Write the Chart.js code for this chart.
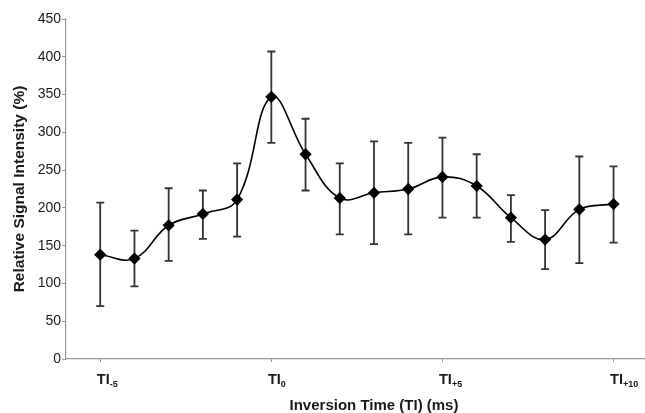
<!DOCTYPE html>
<html>
<head>
<meta charset="utf-8">
<script src="https://cdn.jsdelivr.net/npm/chart.js@4/dist/chart.umd.min.js"></script>
<style>
    html, body { margin: 0; padding: 0; background: #fff; overflow: hidden; }
    /* orijinal şekil sağdan kırpılmış: x ekseni TI+12'ye kadar uzanıyor */
    #wrap { width: 682px; height: 413px; }
</style>
</head>
<body>
<div id="wrap"><canvas id="tiChart"></canvas></div>
<script>
// Veriler
const inversionSteps = [-5, -4, -3, -2, -1, 0, 1, 2, 3, 4, 5, 6, 7, 8, 9, 10];
const signalMeans = [138, 133, 177, 192, 211, 347, 271, 213, 220, 225, 241, 229, 187, 158, 198, 205];
const errorTop    = [207, 170, 226, 223, 259, 407, 318, 259, 288, 286, 293, 271, 217, 197, 268, 255];
const errorBottom = [70, 96, 130, 159, 162, 286, 223, 165, 152, 165, 187, 187, 155, 119, 127, 154];
const tickSteps = [-5, 0, 5, 10];
const tickSubs = ['-5', '0', '+5', '+10'];
const yTicks = [0, 50, 100, 150, 200, 250, 300, 350, 400, 450];

const FONT = "'Liberation Sans', Arial, sans-serif";

// Hata çubukları
const errorBarPlugin = {
    id: 'errorBars',
    beforeDatasetsDraw(chart) {
        const { ctx, scales: { x, y } } = chart;
        ctx.save();
        ctx.strokeStyle = '#333';
        ctx.lineWidth = 1.8;
        inversionSteps.forEach((step, i) => {
            const px = x.getPixelForValue(step);
            const top = y.getPixelForValue(errorTop[i]);
            const bottom = y.getPixelForValue(errorBottom[i]);
            ctx.beginPath();
            ctx.moveTo(px, top);
            ctx.lineTo(px, bottom);
            ctx.moveTo(px - 4, top);
            ctx.lineTo(px + 4, top);
            ctx.moveTo(px - 4, bottom);
            ctx.lineTo(px + 4, bottom);
            ctx.stroke();
        });
        ctx.restore();
    }
};

// Alt simgeli x ekseni etiketleri (TI₋₅ vb.)
const subscriptTickPlugin = {
    id: 'subscriptTicks',
    afterDraw(chart) {
        const { ctx, scales: { x }, chartArea } = chart;
        ctx.save();
        ctx.fillStyle = '#1a1a1a';
        ctx.textBaseline = 'alphabetic';
        ctx.textAlign = 'left';
        const base = chartArea.bottom + 24.5;
        tickSteps.forEach((step, i) => {
            const px = x.getPixelForValue(step);
            ctx.font = 'bold 14.5px ' + FONT;
            const mainW = ctx.measureText('TI').width;
            const start = px + 3 - mainW / 2;
            ctx.fillText('TI', start, base);
            ctx.font = 'bold 9px ' + FONT;
            ctx.fillText(tickSubs[i], start + mainW, base + 3);
        });
        ctx.restore();
    }
};

function drawChart() {
    const ctx = document.getElementById('tiChart').getContext('2d');
    new Chart(ctx, {
        type: 'line',
        data: {
            datasets: [{
                data: inversionSteps.map((s, i) => ({ x: s, y: signalMeans[i] })),
                borderColor: '#000',
                borderWidth: 1.6,
                tension: 0.4,
                pointStyle: 'rectRot',
                pointRadius: 5,
                pointBackgroundColor: '#000',
                pointBorderColor: '#000',
                fill: false
            }]
        },
        options: {
            responsive: true,
            maintainAspectRatio: false,
            animation: false,
            layout: { autoPadding: false, padding: { top: 19, right: 0, bottom: 0, left: 0 } },
            plugins: {
                legend: { display: false },
                tooltip: { enabled: false }
            },
            scales: {
                x: {
                    type: 'linear',
                    min: -6,
                    max: 12,
                    afterBuildTicks: (scale) => {
                        scale.ticks = tickSteps.map(v => ({ value: v }));
                    },
                    afterFit: (scale) => { scale.height = 54; },
                    ticks: { display: false },
                    grid: { drawOnChartArea: false, tickLength: 3, color: '#999' },
                    border: { color: '#999', width: 1.2 },
                    title: {
                        display: true,
                        text: 'Inversion Time (TI) (ms)',
                        color: '#1a1a1a',
                        font: { family: FONT, size: 15, weight: 'bold', lineHeight: 0.9 },
                        padding: { top: 0, bottom: 0 }
                    }
                },
                y: {
                    min: 0,
                    max: 450,
                    afterBuildTicks: (scale) => {
                        scale.ticks = yTicks.map(v => ({ value: v }));
                    },
                    afterFit: (scale) => { scale.width = 66; },
                    ticks: {
                        color: '#1a1a1a',
                        padding: 1,
                        font: { family: FONT, size: 14 }
                    },
                    grid: { drawOnChartArea: false, tickLength: 4, color: '#999' },
                    border: { color: '#999', width: 1.2 },
                    title: {
                        display: true,
                        text: 'Relative Signal Intensity (%)',
                        color: '#1a1a1a',
                        font: { family: FONT, size: 15.5, weight: 'bold', lineHeight: 1.2 },
                        padding: { top: 10.5, bottom: 0 }
                    }
                }
            }
        },
        plugins: [errorBarPlugin, subscriptTickPlugin]
    });
}

document.addEventListener('DOMContentLoaded', drawChart);
</script>
</body>
</html>
